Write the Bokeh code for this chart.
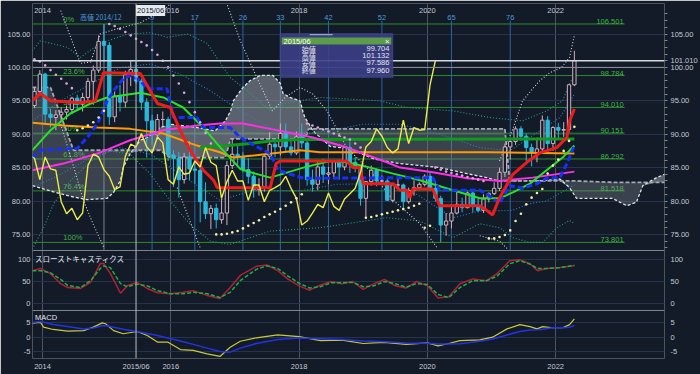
import numpy as np
from bokeh.plotting import figure
from bokeh.models import Range1d, FixedTicker, Span, Label, BoxAnnotation, LinearAxis
from bokeh.core.properties import value
from bokeh.embed import file_html
from bokeh.resources import INLINE

# ---------------- data (CAD/JPY monthly) ----------------
months = [f"{y}-{m:02d}" for y in range(2013, 2023) for m in range(1, 13)][10:112]

opens = [94.3, 96.4,
         99.0, 93.0, 92.5, 92.9, 93.3, 93.7, 95.4, 94.5, 95.5, 97.9, 99.6, 103.9,
         103.3, 92.6, 95.7, 94.8, 98.9, 99.704, 97.96, 94.8, 92.0, 89.9, 92.2, 92.2,
         86.9, 86.4, 83.2, 86.6, 84.8, 84.6, 79.9, 78.1, 78.9, 77.2, 78.2, 85.3,
         87.0, 86.6, 84.7, 83.7, 81.7, 82.1, 86.7, 88.5, 88.1, 90.1, 88.1, 87.2,
         89.6, 88.7, 83.2, 82.5, 85.1, 84.0, 84.2, 86.0, 85.1, 88.0, 85.8, 85.3,
         80.4, 82.9, 84.6, 83.0, 83.0, 80.1, 82.4, 82.4, 79.9, 81.6, 82.0, 82.5,
         83.7, 81.9, 80.4, 76.4, 77.0, 78.2, 79.5, 79.0, 81.2, 79.2, 78.6, 80.3,
         81.1, 81.9, 84.3, 88.1, 88.9, 90.8, 89.7, 88.0, 87.2, 87.8, 92.1, 88.6,
         91.0, 90.6, 90.7, 97.4]
highs = [97.0, 99.6,
         99.2, 93.8, 93.6, 94.0, 94.3, 95.6, 95.9, 96.2, 98.4, 100.3, 104.8, 106.501,
         103.8, 96.4, 97.4, 99.5, 101.1, 101.132, 98.3, 95.4, 92.9, 93.0, 93.4, 92.6,
         87.6, 87.3, 87.2, 89.0, 86.1, 86.0, 82.8, 79.4, 79.6, 80.4, 86.0, 89.4,
         88.4, 87.3, 86.4, 84.4, 83.4, 86.9, 90.3, 89.3, 91.6, 91.6, 89.1, 90.4,
         91.6, 89.4, 84.7, 86.1, 86.3, 85.1, 86.1, 86.2, 88.2, 88.9, 86.6, 85.4,
         83.0, 85.3, 84.9, 83.8, 83.4, 82.4, 83.5, 82.6, 82.0, 83.1, 82.8, 84.0,
         84.5, 83.1, 80.8, 78.2, 79.5, 81.4, 80.5, 81.4, 81.4, 80.3, 81.0, 81.3,
         82.8, 85.0, 88.6, 89.2, 91.2, 91.2, 90.1, 88.6, 89.5, 92.8, 92.7, 91.2,
         91.7, 91.8, 97.5, 102.5]
lows = [93.9, 95.9,
        91.4, 91.0, 90.6, 91.8, 92.2, 93.0, 93.6, 93.4, 95.0, 94.4, 99.2, 100.8,
        91.4, 91.8, 93.4, 94.0, 97.2, 97.586, 93.6, 86.5, 88.4, 89.2, 91.2, 86.0,
        82.1, 80.5, 82.6, 83.1, 82.6, 76.8, 77.3, 75.8, 75.9, 76.6, 76.4, 84.8,
        85.1, 84.3, 82.6, 80.5, 80.8, 81.4, 86.3, 86.6, 86.8, 87.4, 86.8, 86.9,
        87.9, 82.3, 81.4, 81.6, 82.7, 82.5, 83.3, 83.2, 84.6, 84.2, 84.3, 79.3,
        77.6, 82.3, 82.2, 82.4, 80.1, 79.8, 81.9, 78.6, 79.6, 80.8, 81.6, 82.2,
        81.5, 79.9, 73.801, 74.8, 75.9, 78.0, 78.3, 78.9, 78.3, 78.3, 78.2, 79.8,
        80.9, 81.5, 83.6, 86.2, 88.4, 89.0, 86.0, 85.2, 85.8, 87.4, 87.7, 87.5,
        89.2, 89.6, 90.3, 97.2]
closes = [96.4, 99.0,
          93.0, 92.5, 92.9, 93.3, 93.7, 95.4, 94.5, 95.5, 97.9, 99.6, 103.9, 103.3,
          92.6, 95.7, 94.8, 98.9, 99.7, 97.96, 94.8, 92.0, 89.9, 92.2, 92.2, 86.9,
          86.4, 83.2, 86.6, 84.8, 84.6, 79.9, 78.1, 78.9, 77.2, 78.2, 85.3, 87.0,
          86.6, 84.7, 83.7, 81.7, 82.1, 86.7, 88.5, 88.1, 90.1, 88.1, 87.2, 89.6,
          88.7, 83.2, 82.5, 85.1, 84.0, 84.2, 86.0, 85.1, 88.0, 85.8, 85.3, 80.4,
          82.9, 84.6, 83.0, 83.0, 80.1, 82.4, 82.4, 79.9, 81.6, 82.0, 82.5, 83.7,
          81.9, 80.4, 76.4, 77.0, 78.2, 79.5, 79.0, 81.2, 79.2, 78.6, 80.3, 81.1,
          81.9, 84.3, 88.1, 88.9, 90.8, 89.7, 88.0, 87.2, 87.8, 92.1, 88.6, 91.0,
          90.6, 90.7, 97.4, 101.01]

# x positions of indicator samples are in months since 2014-01
tenkan_m = [-1.9, -0.4, 1.5, 7.1, 9.9, 11.4, 18.3, 19.8, 21.5, 23.9, 25.8, 27.6, 30.1, 32.0, 32.7,
            42.6, 43.7, 44.5, 56.9, 58.1, 59.4, 60.0, 65.6, 66.9, 68.2, 68.7, 69.3, 73.0, 74.3,
            81.8, 83.1, 84.2, 85.5, 88.0, 90.6, 93.0, 96.2, 98.1, 98.6, 99.5]
tenkan_p = [95.0, 96.1, 95.0, 94.7, 95.0, 99.2, 99.1, 97.0, 94.6, 94.0, 90.5, 87.6, 84.6, 83.1, 82.0,
            82.0, 85.6, 86.0, 86.0, 85.0, 85.0, 82.6, 82.6, 81.6, 81.6, 80.5, 81.8, 81.8, 79.3,
            79.3, 78.6, 77.9, 80.5, 84.0, 85.8, 87.2, 88.0, 89.5, 92.0, 93.8]
kijun_m = [-1.9, -0.4, 6.5, 8.4, 10.3, 12.1, 13.3, 15.1, 16.4, 18.3, 19.6, 23.3, 24.5, 28.9, 30.1,
           35.1, 37.0, 39.0, 42.6, 44.1, 48.8, 73.0, 74.3, 81.8, 83.1, 85.5, 86.1, 87.4, 89.8,
           92.5, 94.3, 96.8, 98.1, 99.5]
kijun_p = [86.5, 87.6, 87.9, 89.5, 91.6, 95.0, 96.5, 98.3, 98.8, 98.0, 96.8, 96.8, 92.5, 92.5, 91.0,
           91.0, 89.5, 88.6, 87.1, 84.6, 83.4, 83.5, 81.6, 81.6, 81.1, 79.6, 80.5, 82.3, 81.9,
           82.6, 83.4, 83.5, 85.6, 88.3]
ma_green_m = [-1.9, 1.5, 5.2, 9.0, 12.1, 18.3, 22.6, 26.3, 30.1, 33.3, 37.0, 38.9, 42.6, 48.8,
              53.8, 57.0, 61.3, 65.6, 70.6, 76.8, 81.8, 85.5, 88.0, 91.2, 94.3, 97.3, 99.5]
ma_green_p = [87.6, 90.6, 93.1, 94.6, 95.5, 96.2, 95.5, 94.0, 91.0, 88.0, 84.8, 84.3, 83.5, 85.0,
              86.0, 85.8, 85.0, 84.1, 83.1, 81.6, 80.4, 80.4, 81.3, 82.6, 84.6, 86.5, 88.3]
ma_magenta_m = [-1.9, 3.9, 10.3, 16.4, 22.6, 28.9, 33.2, 37.5, 42.6, 50.6, 57.0, 64.4, 66.9,
                73.0, 79.4, 85.5, 91.7, 99.5]
ma_magenta_p = [84.6, 85.6, 87.1, 89.1, 90.6, 91.3, 91.6, 91.6, 90.8, 89.5, 88.0, 85.8, 85.0,
                84.3, 83.4, 83.0, 83.5, 84.4]
ma_orange_m = [-1.9, 3.9, 10.3, 16.4, 22.6, 28.9, 33.2, 35.7, 39.4, 48.2, 51.9, 57.5, 83.7, 99.5]
ma_orange_p = [91.7, 91.3, 91.0, 90.8, 90.1, 88.3, 87.3, 86.5, 86.8, 87.6, 87.3, 87.3, 87.3, 87.1]
ma_dkgreen_m = [29.5, 34.7, 38.9, 42.6, 48.2, 99.5]
ma_dkgreen_p = [88.0, 88.3, 88.6, 89.0, 89.2, 89.3]

cloud_m = [-1.9, 1.5, 5.8, 8.4, 12.1, 13.3, 14.6, 15.1, 16.4, 18.3, 19.6, 22.0, 23.9, 29.0, 32.3,
           34.2, 35.2, 35.7, 37.5, 38.8, 40.7, 43.1, 44.5, 45.0, 46.3, 48.2, 48.8, 49.1, 49.8,
           50.6, 53.8, 57.5, 62.0, 66.9, 70.6, 74.3, 79.4, 83.1, 85.5, 86.5, 87.4, 93.0, 96.8,
           98.6, 99.9, 106.6, 109.3, 111.1, 112.3, 114.9, 116.7]
span_a = [82.3, 81.5, 80.6, 80.2, 80.4, 81.3, 83.1, 85.0, 87.1, 89.1, 89.5, 91.0, 91.5, 91.0, 90.5,
          92.0, 93.5, 95.0, 97.0, 98.0, 98.8, 98.8, 97.6, 96.1, 95.5, 95.0, 93.1, 92.5, 91.6,
          90.5, 88.2, 87.8, 86.3, 85.6, 85.3, 85.0, 84.1, 83.5, 83.0, 83.0, 83.0, 83.0, 83.3,
          82.0, 80.4, 80.4, 79.3, 79.8, 82.3, 83.5, 84.1]
span_b = [97.0, 97.0, 87.6, 87.6, 87.6, 87.6, 87.6, 87.6, 87.6, 87.6, 87.6, 87.6, 86.5, 86.5, 86.5,
          86.5, 89.3, 89.3, 89.3, 89.3, 89.3, 89.3, 89.3, 89.3, 89.3, 89.3, 89.3, 89.3, 90.8,
          90.8, 90.8, 90.8, 90.8, 90.8, 90.8, 90.8, 90.8, 90.8, 90.8, 90.8, 83.0, 83.0, 83.0,
          83.0, 83.0, 82.8, 82.8, 82.8, 82.8, 82.8, 82.8]

bb_u1_m = [-1.9, 3.4, 9.0, 14.6, 20.2, 25.8, 31.4, 37.0, 42.6, 48.2, 53.8, 59.9, 66.9, 74.3, 81.8,
           87.4, 93.0, 96.8, 99.5]
bb_u1_p = [92.0, 95.0, 97.5, 100.0, 100.5, 99.0, 96.5, 93.5, 91.0, 90.0, 90.5, 91.5, 91.5, 90.0,
           88.0, 87.5, 90.5, 92.5, 96.0]
bb_l1_m = [-1.9, 3.4, 9.0, 14.6, 20.2, 25.8, 33.2, 39.4, 48.2, 55.0, 63.1, 70.0, 76.8, 81.8,
           87.9, 91.2, 94.3, 98.6, 99.5]
bb_l1_p = [82.0, 84.0, 86.5, 88.0, 87.0, 84.0, 80.1, 81.6, 81.5, 82.5, 82.6, 81.0, 77.5, 78.5,
           78.6, 79.6, 80.0, 82.0, 82.4]
bb_u2_m = [-1.9, -0.4, 4.7, 7.1, 10.8, 15.9, 20.2, 23.4, 27.1, 30.8, 35.1, 38.3, 42.6, 45.0,
           51.9, 63.1, 68.2, 76.8, 83.7, 89.8, 94.3, 97.3, 98.6, 99.5]
bb_u2_p = [102.5, 104.0, 103.0, 101.5, 103.6, 105.0, 105.2, 104.5, 105.0, 103.6, 98.5, 96.5,
           93.5, 94.6, 95.5, 95.0, 94.0, 93.5, 92.5, 92.0, 93.5, 95.0, 97.6, 98.8]
bb_l2_m = [-1.9, 0.2, 2.1, 5.2, 9.0, 12.7, 16.4, 20.2, 23.9, 27.6, 31.4, 35.1, 38.8, 42.6, 51.9,
           64.4, 70.6, 76.8, 81.8, 85.5, 88.0, 91.2, 93.6, 96.2, 98.6, 99.5]
bb_l2_p = [72.8, 76.0, 79.6, 83.0, 86.0, 87.5, 87.0, 84.0, 80.0, 76.5, 74.0, 73.5, 74.5, 75.5,
           76.0, 77.5, 77.0, 74.5, 76.6, 76.0, 74.5, 73.8, 73.8, 76.0, 77.1, 76.6]
bb_w_m = [[3.4, 7.1, 9.0, 10.8, 12.7, 18.3, 22.6, 23.9],
          [34.6, 37.0, 39.8, 43.0, 45.4, 48.2, 50.6, 53.2, 56.9, 61.3, 65.6, 70.6, 73.8],
          [3.4, 5.5, 7.7, 9.5, 11.5],
          [25.2, 29.5],
          [81.8, 85.5, 86.9],
          [85.5, 88.0, 89.8, 93.0, 94.9, 97.1, 98.6, 99.5]]
bb_w_p = [[108.5, 100.6, 100.8, 105.0, 105.5, 106.7, 108.5, 109.5],
          [109.3, 104.0, 99.0, 93.5, 95.5, 97.0, 96.0, 93.5, 88.0, 84.5, 80.1, 76.6, 73.0],
          [91.5, 86.0, 80.0, 76.5, 73.0],
          [82.0, 73.0],
          [74.8, 74.0, 72.9],
          [86.0, 90.8, 95.0, 98.0, 99.2, 100.0, 101.5, 104.8]]

sar_pink_m = [-1.5, -0.5, 0.5, 1.5, 2.5, 3.5, 4.5, 5.5,
              12.5, 13.5, 14.5, 15.5, 16.5, 17.5, 18.5, 19.5, 20.5, 21.5, 22.5, 23.5, 24.5, 25.5,
              26.5, 27.5, 28.5, 29.5, 30.5, 31.5,
              49.5, 50.5, 51.5, 52.5, 53.5, 54.5, 55.5, 56.5, 57.5, 58.5, 59.5,
              73.5, 74.5, 75.5, 76.5, 77.5, 78.5, 79.5, 80.5, 81.5, 82.5]
sar_pink_p = [101.2, 100.9, 100.3, 99.6, 98.9, 98.3, 97.6, 96.9,
              106.5, 106.2, 105.8, 105.3, 104.8, 104.3, 103.8, 103.3, 102.6, 101.9, 101.0, 100.0,
              98.8, 97.6, 96.2, 94.8, 93.3, 91.8, 90.2, 88.6,
              91.6, 91.3, 91.0, 90.7, 90.4, 90.1, 89.8, 89.5, 89.2, 88.6, 88.0,
              85.0, 84.7, 84.4, 84.2, 84.0, 83.8, 83.6, 83.4, 83.2, 83.0]
sar_yel_m = [6.5, 7.5, 8.5, 9.5, 10.5, 11.5,
             32.5, 33.5, 34.5, 35.5, 36.5, 37.5, 38.5, 39.5, 40.5, 41.5, 42.5, 43.5, 44.5, 45.5,
             46.5, 47.5, 48.5,
             60.5, 61.5, 62.5, 63.5, 64.5, 65.5, 66.5, 67.5, 68.5, 69.5, 70.5, 71.5, 72.5,
             83.5, 84.5, 85.5, 86.5, 87.5, 88.5, 89.5, 90.5, 91.5, 92.5, 93.5, 94.5, 95.5, 96.5,
             97.5, 98.5, 99.5]
sar_yel_p = [90.6, 90.9, 91.3, 91.8, 92.5, 93.5,
             75.0, 75.0, 75.1, 75.3, 75.5, 75.9, 76.3, 76.7, 77.1, 77.6, 78.0, 78.4, 78.8, 79.3,
             79.8, 80.4, 81.0,
             77.5, 77.6, 77.8, 78.0, 78.2, 78.4, 78.6, 78.8, 79.0, 79.3, 79.6, 76.0, 76.3,
             74.4, 74.4, 74.6, 74.9, 75.6, 77.0, 78.1, 79.5, 80.5, 81.2, 81.8, 84.1, 85.3, 86.2,
             87.5, 89.0, 91.1]

fib_levels = [106.501, 98.784, 94.010, 90.151, 86.292, 81.518, 73.801]
fib_pcts = ["0%", "23.6%", "38.2%", "50%", "61.8%", "76.4%", "100%"]
count_numbers = [9, 17, 26, 33, 42, 52, 65, 76]
chikou_shift = 26

stoch_m = [-1.9, -0.4, 1.5, 3.4, 4.7, 7.1, 9.0, 10.8, 11.4, 12.7, 14.6, 15.9, 17.7, 19.6, 21.5,
           23.9, 26.3, 28.2, 30.8, 33.2, 35.1, 37.0, 40, 42, 44, 46, 48, 50, 52, 54, 56, 58, 60,
           62, 64, 66, 68, 70, 72, 74, 76, 78.1, 80.5, 83.1, 85.0, 87.4, 89.3, 91.2, 92.6, 94.3,
           96.8, 99.5]
stoch_k = [75, 80, 68, 45, 36, 34, 48, 91, 92, 68, 23, 41, 48, 34, 24, 22, 25, 29, 18, 11, 36, 64,
           85, 88, 75, 55, 40, 30, 42, 50, 45, 50, 32, 45, 55, 40, 35, 50, 40, 12, 15, 45, 56, 52,
           68, 98, 100, 91, 75, 80, 82, 87]
stoch_d = [75, 75, 70, 55, 41, 36, 52, 80, 86, 82, 45, 38, 44, 40, 29, 22, 22, 25, 22, 13, 25, 52,
           78, 86, 80, 62, 46, 35, 38, 47, 47, 48, 38, 40, 50, 45, 37, 45, 43, 20, 13, 36, 52, 52,
           62, 91, 98, 90, 80, 80, 82, 87]
macd_m = [-1.9, -0.4, 0.2, 2.0, 4.7, 7.7, 9.5, 11.2, 11.8, 13.3, 15.1, 17.7, 19.6, 21.5, 23.4,
          25.8, 28.2, 30.8, 33.2, 35.1, 37.0, 40, 44, 48, 52, 56, 60, 64, 68, 72, 74, 76, 78.1,
          81.8, 84.2, 86.9, 89.3, 91.2, 92.5, 93.6, 95.4, 97.3, 98.6, 99.5]
macd_line = [4.9, 5.2, 3.5, 2.7, 2.1, 2.3, 3.5, 5.0, 4.7, 2.3, 1.2, 2.0, 0.6, -1.7, -1.7, -4.3,
             -4.6, -5.8, -6.7, -3.5, -1.4, -0.2, 0.8, 0.2, -1.2, -1.0, -2.2, -1.8, -2.5, -2.0,
             -3.0, -2.2, -1.2, -0.9, 0.0, 2.9, 4.4, 3.7, 2.9, 3.7, 3.3, 3.3, 4.4, 6.4]
macd_signal = [5.1, 5.5, 5.2, 4.4, 3.7, 2.9, 3.2, 4.0, 4.1, 3.5, 2.8, 2.0, 1.3, 0.6, -0.3, -1.3,
               -2.5, -3.8, -5.0, -5.2, -3.8, -2.2, -0.8, -0.3, -0.5, -0.8, -1.3, -1.6, -2.0,
               -2.1, -2.4, -2.4, -2.3, -1.4, -0.6, 0.8, 2.0, 2.5, 2.6, 2.8, 3.3, 3.3, 3.5, 4.1]

year_ticks = [0, 24, 48, 72, 96]
year_labels = ["2014", "2016", "2018", "2020", "2022"]
price_ticks = [75, 80, 85, 90, 95, 100, 105]
stoch_ticks = [0, 50, 100]
macd_ticks = [-5, 0, 5]
cursor_month = "2015-06"

# ---------------- figure ----------------
BG = "#131b29"
CYAN = "#2bb8da"
UPC = "#cfb0c0"
FONT = "Liberation Sans"
JP = "Noto Sans CJK JP"
FS = "7.5px"

W, H = 700, 374
BL, BR, BT, BB = 32, 35, 3, 16

P0, P1 = 56.42, 109.57
X0, X1 = -1.87, 116.36
stoch_r = Range1d(-127.4, 690.6)
macd_r = Range1d(-7.42, 116.3)
p = figure(width=W, height=H, x_range=Range1d(X0, X1), y_range=Range1d(P0, P1),
           output_backend="svg", toolbar_location=None,
           background_fill_color=BG, border_fill_color=BG, outline_line_color=None,
           min_border_left=BL, min_border_right=BR, min_border_top=BT, min_border_bottom=BB)
p.extra_y_ranges = {"stoch": stoch_r, "macd": macd_r}


def to_price(v, r):
    return round(P0 + (v - r.start) / (r.end - r.start) * (P1 - P0), 4)


tick_pos = [float(t) for t in price_ticks] + [to_price(v, stoch_r) for v in stoch_ticks] + \
           [to_price(v, macd_r) for v in macd_ticks]
tick_txt = [f"{t:.2f}" for t in price_ticks] + [str(v) for v in stoch_ticks] + [str(v) for v in macd_ticks]
overrides = dict(zip(tick_pos, tick_txt))


def style_axis(ax):
    ax.axis_line_color = None
    ax.major_tick_line_color = None
    ax.minor_tick_line_color = None
    ax.major_tick_out = 0
    ax.major_tick_in = 0
    ax.minor_tick_out = 0
    ax.minor_tick_in = 0
    ax.major_label_text_color = "#c5cad1"
    ax.major_label_text_font_size = FS
    ax.major_label_text_font = FONT
    ax.major_label_standoff = 2


yl = p.yaxis[0]
yl.ticker = FixedTicker(ticks=tick_pos)
yl.major_label_overrides = overrides
style_axis(yl)

# right axis also carries the last-price tag
last_close = float(closes[-1])
r_overrides = dict(overrides)
r_overrides[last_close] = f"{last_close:.3f}"
yr = LinearAxis(ticker=FixedTicker(ticks=tick_pos + [last_close], minor_ticks=list(range(73, 109))))
yr.major_label_overrides = r_overrides
style_axis(yr)
yr.minor_tick_line_color = "#7d858f"
yr.minor_tick_out = 3
yr.major_label_standoff = 3
p.add_layout(yr, "right")

# bottom axis carries the cursor date too
i_cur = months.index(cursor_month)
cy, cm = cursor_month.split("-")
x_c = np.array([(int(s[:4]) - 2014) * 12 + int(s[5:]) - 1 for s in months]) + 0.5
m_cur = float(x_c[i_cur])
xa = p.xaxis[0]
xa.ticker = FixedTicker(ticks=year_ticks + [m_cur])
x_over = dict(zip(year_ticks, year_labels))
x_over[m_cur] = f"{cy}/{cm}"
xa.major_label_overrides = x_over
style_axis(xa)
xa.major_label_standoff = 3

p.ygrid.ticker = FixedTicker(ticks=tick_pos)
p.ygrid.grid_line_color = "#27334a"
p.xgrid.ticker = FixedTicker(ticks=year_ticks)
p.xgrid.grid_line_color = "#4a5361"

# panel separators
for loc in (72.59, 63.61):
    p.add_layout(Span(location=loc, dimension="width", line_color="#7d858f", line_width=1))

o = np.array(opens); h = np.array(highs); l = np.array(lows); c = np.array(closes)
up = c >= o

# Fibonacci levels
fib_end = 108.9
p.segment(x0=[X0] * len(fib_levels), x1=[fib_end] * len(fib_levels), y0=fib_levels, y1=fib_levels,
          line_color="#2d8a2d", line_width=1)
p.text(x=[3.9] * len(fib_levels), y=fib_levels, text=fib_pcts, text_font=value(FONT),
       text_font_size=FS, text_color="#3fb83f", text_baseline="bottom", text_align="left")
p.text(x=[108.7] * len(fib_levels), y=fib_levels, text=[f"{v:.3f}" for v in fib_levels],
       text_font=value(FONT), text_font_size=FS, text_color="#3fb83f",
       text_baseline="bottom", text_align="right")

# Ichimoku time counts from the high
i_high = int(np.argmax(h))
m_high = x_c[i_high]
cnt_x = [m_high + n for n in count_numbers]
p.segment(x0=cnt_x, x1=cnt_x, y0=[72.59] * len(cnt_x), y1=[107.0] * len(cnt_x),
          line_color="#2a66a0", line_width=1)
p.segment(x0=[m_high], x1=[m_high], y0=[72.59], y1=[106.5], line_color="#7c838c", line_width=1)
p.text(x=cnt_x, y=[107.47] * len(cnt_x), text=[str(n) for n in count_numbers],
       text_font=value(FONT), text_font_size=FS, text_color="#4a9ad8",
       text_align="center", text_baseline="middle")
hy, hm = months[i_high].split("-")
p.text(x=[m_high - 0.6], y=[107.62], text=[f"高値 {hy}/{hm}"], text_font=value(JP),
       text_font_size="7px", text_color="#4a9ad8", text_align="center", text_baseline="middle")
p.text(x=year_ticks, y=[108.52] * len(year_ticks), text=year_labels, text_font=value(FONT),
       text_font_size=FS, text_color="#c5cad1", text_align="center", text_baseline="middle")

# reference price lines
p.add_layout(Span(location=100.0, dimension="width", line_color="#8e949c", line_width=1))
p.add_layout(Span(location=last_close, dimension="width", line_color="#d6d9dd", line_width=1.5))

# Ichimoku cloud
sa = np.array(span_a); sb = np.array(span_b); lo = np.minimum(sa, sb)
p.varea(x=cloud_m, y1=sa, y2=lo, fill_color="#a3a9b1", fill_alpha=0.5)
p.varea(x=cloud_m, y1=sb, y2=lo, fill_color="#8d949c", fill_alpha=0.32)
p.line(cloud_m, span_a, line_color="#dfe3e8", line_width=1.3, line_dash="3 2")
p.line(cloud_m, span_b, line_color="#a2a8b0", line_width=1.8, line_dash="4 2")

# bands
p.line(bb_u1_m, bb_u1_p, line_color="#2f7fc0", line_width=1.1, line_dash="1 2")
p.line(bb_l1_m, bb_l1_p, line_color="#2f7fc0", line_width=1.1, line_dash="1 2")
p.line(bb_u2_m, bb_u2_p, line_color="#2aa07c", line_width=1.1, line_dash="1 2")
p.line(bb_l2_m, bb_l2_p, line_color="#2aa07c", line_width=1.1, line_dash="1 2")
p.multi_line(xs=bb_w_m, ys=bb_w_p, line_color="#d0d5db", line_width=1.1, line_dash="1 2")

# candles
p.segment(x0=x_c, y0=l, x1=x_c, y1=h, line_color=list(np.where(up, UPC, CYAN)), line_width=1)
p.vbar(x=x_c, width=0.62, top=np.maximum(o, c), bottom=np.minimum(o, c),
       fill_color=list(np.where(up, BG, CYAN)), line_color=list(np.where(up, UPC, CYAN)),
       line_width=1)

# moving averages / ichimoku lines
p.line(ma_orange_m, ma_orange_p, line_color="#ff9a00", line_width=2)
p.line(ma_dkgreen_m, ma_dkgreen_p, line_color="#0e9a1a", line_width=3)
p.line(ma_magenta_m, ma_magenta_p, line_color="#ff2fe6", line_width=2)
p.line(ma_green_m, ma_green_p, line_color="#28e028", line_width=2)
p.line(kijun_m, kijun_p, line_color="#1530ff", line_width=3, line_dash="6 3")
p.line(tenkan_m, tenkan_p, line_color="#f01c1c", line_width=3)
p.line(x_c - chikou_shift, c, line_color="#ecec4a", line_width=1.4)

# parabolic SAR
p.scatter(sar_pink_m, sar_pink_p, size=2.6, color="#d9a6e0", line_color=None)
p.scatter(sar_yel_m, sar_yel_p, size=2.6, color="#f2f0a6", line_color=None)

# stochastics
p.line(stoch_m, stoch_k, y_range_name="stoch", line_color="#b21f35", line_width=1.5)
p.line(stoch_m, stoch_d, y_range_name="stoch", line_color="#1fae45", line_width=1.5, line_dash="4 2")
p.text(x=[-1.4], y=[103], y_range_name="stoch", text=["スローストキャスティクス"],
       text_font=value(JP), text_font_size="7.5px", text_color="#e6e8ec", text_baseline="middle")

# MACD
p.line(macd_m, macd_line, y_range_name="macd", line_color="#c9c83a", line_width=1.2)
p.line(macd_m, macd_signal, y_range_name="macd", line_color="#2233e6", line_width=1.5)
p.text(x=[-1.4], y=[6.9], y_range_name="macd", text=["MACD"], text_font=value(FONT),
       text_font_size=FS, text_color="#e6e8ec", text_baseline="middle")

# cursor
p.add_layout(Span(location=m_cur, dimension="height", line_color="#b8bec6", line_width=1))
p.add_layout(Label(x=m_cur, y=108.52, text=f"{cy}/{cm}", text_font=FONT, text_font_size=FS,
                   text_color="#15202e", text_baseline="middle", text_align="left",
                   background_fill_color="#e6eaee", padding=1))

# tooltip box
p.add_layout(BoxAnnotation(left=44.45, right=65.56, top=105.07, bottom=98.49,
                           fill_color="#3c3f86", fill_alpha=0.9, line_color="#5a5da8"))
p.add_layout(BoxAnnotation(left=44.75, right=65.25, top=104.48, bottom=103.43,
                           fill_color="#5c9c4a", fill_alpha=1.0, line_color=None))
p.add_layout(BoxAnnotation(left=50.0, right=54.3, top=105.0, bottom=104.8,
                           fill_color="#9ea3c8", fill_alpha=1.0, line_color=None))
p.add_layout(Label(x=45.1, y=103.95, text=f"{cy}/{cm}", text_font=FONT, text_font_size=FS,
                   text_color="#ffffff", text_baseline="middle", text_align="left"))
p.add_layout(Label(x=64.9, y=103.95, text="×", text_font=FONT, text_font_size=FS,
                   text_color="#ffffff", text_baseline="middle", text_align="right"))
row_names = ["始値", "高値", "安値", "終値"]
row_vals = [opens[i_cur], highs[i_cur], lows[i_cur], closes[i_cur]]
row_y = [102.83, 101.78, 100.73, 99.54]
for nm, vv, yy in zip(row_names, row_vals, row_y):
    p.add_layout(Label(x=48.5, y=yy, text=nm, text_font=JP, text_font_size="7px",
                       text_color="#e4e6f0", text_baseline="middle", text_align="left"))
    p.add_layout(Label(x=64.9, y=yy, text=f"{vv:.3f}", text_font=FONT, text_font_size=FS,
                       text_color="#e4e6f0", text_baseline="middle", text_align="right"))

open("out.html", "w").write(file_html(p, INLINE))
